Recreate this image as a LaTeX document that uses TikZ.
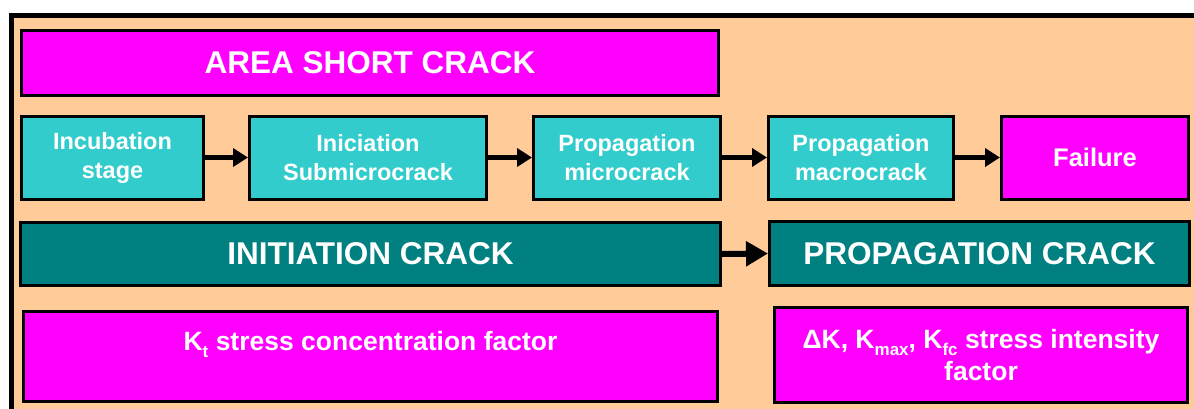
\documentclass[tikz,border=0pt]{standalone}
\usepackage{fontspec}
\setmainfont{Liberation Sans}
\usetikzlibrary{arrows.meta}
\definecolor{peach}{RGB}{255,204,153}
\definecolor{magbox}{RGB}{255,0,255}
\definecolor{cyanbox}{RGB}{51,204,204}
\definecolor{tealbox}{RGB}{0,128,128}
\begin{document}
\begin{tikzpicture}[x=1pt,y=-1pt,
  box/.style={draw=black, line width=3pt, inner sep=0pt, text=white, align=center},
  bigfont/.style={font=\fontsize{31.5}{36}\selectfont\bfseries},
  stepfont/.style={font=\fontsize{23.5}{29}\selectfont\bfseries},
  factfont/.style={font=\fontsize{26.5}{32}\selectfont\bfseries},
  magfill/.style={fill=magbox},
  cyanfill/.style={fill=cyanbox},
  tealfill/.style={fill=tealbox},
  stageboxA/.style={box, cyanfill, stepfont, minimum height=83pt},
  smallarrow/.style={draw=black, line width=5pt, -{Triangle[length=15pt,width=18pt]}},
  bigarrow/.style={draw=black, line width=6pt, -{Triangle[length=22pt,width=24pt]}}
]
\useasboundingbox (0,0) rectangle (1194,408);
\clip (0,0) rectangle (1194,408);
\fill[white] (0,0) rectangle (1194,408);
\draw[line width=5pt, fill=peach] (11.5,15.5) rectangle (1210,430);

\node[box, magfill, bigfont, minimum width=697pt, minimum height=65pt] (area) at (370,63) {AREA SHORT CRACK};

\node[stageboxA, minimum width=182pt] (inc) at (112.5,157.5) {Incubation\\stage};
\node[stageboxA, minimum width=237pt] (ini) at (368,157.5) {Iniciation\\Submicrocrack};
\node[stageboxA, minimum width=187pt] (mic) at (627,157.5) {Propagation\\microcrack};
\node[stageboxA, minimum width=185pt] (mac) at (861,157.5) {Propagation\\macrocrack};
\node[box, magfill, font=\fontsize{25.5}{30}\selectfont\bfseries, minimum width=187pt, minimum height=83pt] (fail) at (1095,157.5) {Failure};

\draw[smallarrow] (inc.east) -- (ini.west);
\draw[smallarrow] (ini.east) -- (mic.west);
\draw[smallarrow] (mic.east) -- (mac.west);
\draw[smallarrow] (mac.east) -- (fail.west);

\node[box, tealfill, bigfont, minimum width=700pt, minimum height=63pt] (init) at (370.5,254) {INITIATION CRACK};
\node[box, tealfill, bigfont, minimum width=420pt, minimum height=64pt] (prop) at (979.5,253.5) {PROPAGATION CRACK};
\draw[bigarrow] (init.east) -- (prop.west);

\node[box, magfill, factfont, minimum width=694pt, minimum height=90pt, text height=19pt, text depth=32pt] (kt) at (370.5,356.5) {K\raisebox{-0.3em}{\fontsize{17}{17}\selectfont t} stress concentration factor};
\node[box, magfill, factfont, minimum width=413pt, minimum height=95pt] (dk) at (981,355) {ΔK, K\raisebox{-0.25em}{\fontsize{17}{17}\selectfont max}, K\raisebox{-0.25em}{\fontsize{17}{17}\selectfont fc} stress intensity\\factor};
\end{tikzpicture}
\end{document}
